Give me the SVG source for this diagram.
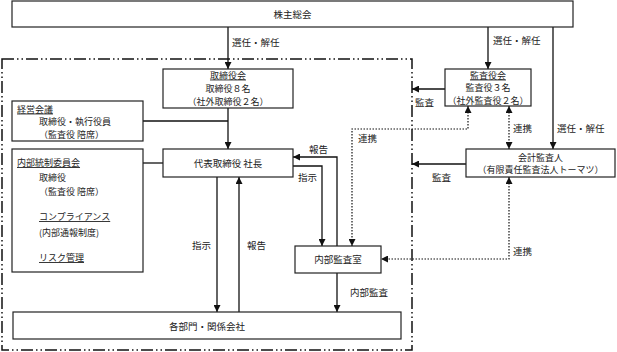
<svg xmlns="http://www.w3.org/2000/svg" width="617" height="352" viewBox="0 0 617 352">
<style>
.box{fill:#fff;stroke:#222;stroke-width:1.2}
.t{font-family:"Noto Sans CJK JP","Noto Sans",sans-serif;font-size:9.5px;fill:#222}
.s{font-size:9px}
.c{text-anchor:middle}
.u{text-decoration:underline}
.ln{fill:none;stroke:#111;stroke-width:1.3}
.dot{fill:none;stroke:#111;stroke-width:1.2;stroke-dasharray:1.5 1.5}
.frame{fill:none;stroke:#111;stroke-width:1.5;stroke-dasharray:12 3 1.5 3 1.5 3}
</style>
<defs>
<marker id="a" viewBox="0 0 10 10" refX="10" refY="5" markerWidth="7" markerHeight="7" markerUnits="userSpaceOnUse" orient="auto-start-reverse">
<path d="M0,0 L10,5 L0,10 z" fill="#111"/>
</marker>
</defs>
<rect class="frame" x="2" y="59" width="410" height="291"/>
<g id="connectors">
<path class="ln" d="M228,27 V69" marker-end="url(#a)"/>
<path class="ln" d="M488,27 V69" marker-end="url(#a)"/>
<path class="ln" d="M553,27 V149" marker-end="url(#a)"/>
<path class="ln" d="M143,121 H228"/>
<path class="ln" d="M228,108 V149" marker-end="url(#a)"/>
<path class="ln" d="M143,163 H163"/>
<path class="ln" d="M217,177 V312" marker-end="url(#a)"/>
<path class="ln" d="M239,312 V177" marker-end="url(#a)"/>
<path class="ln" d="M293,166 H322 V246" marker-end="url(#a)"/>
<path class="ln" d="M337,246 V157 H293" marker-end="url(#a)"/>
<path class="ln" d="M445,89 H412" marker-end="url(#a)"/>
<path class="ln" d="M466,164 H412" marker-end="url(#a)"/>
<path class="ln" d="M337,273 V312" marker-end="url(#a)"/>
<path class="dot" d="M468,106 V129 H352 V246" marker-start="url(#a)" marker-end="url(#a)"/>
<path class="dot" d="M509,106 V149" marker-start="url(#a)" marker-end="url(#a)"/>
<path class="dot" d="M509,177 V259 H381" marker-start="url(#a)" marker-end="url(#a)"/>
<text class="t" x="232" y="45.5">選任・解任</text>
<text class="t" x="493" y="43.5">選任・解任</text>
<text class="t" x="557" y="131.5">選任・解任</text>
<text class="t" x="415" y="105.5">監査</text>
<text class="t" x="432" y="180.5">監査</text>
<text class="t" x="358" y="141.5">連携</text>
<text class="t" x="513" y="131.5">連携</text>
<text class="t" x="513" y="254.5">連携</text>
<text class="t" x="309" y="152.5">報告</text>
<text class="t" x="298" y="180.5">指示</text>
<text class="t" x="192" y="248.5">指示</text>
<text class="t" x="247" y="248.5">報告</text>
<text class="t" x="350" y="295.5">内部監査</text>
</g>
<g id="shareholders">
<rect class="box" x="12" y="1" width="561" height="26"/>
<text class="t c" x="292.5" y="18">株主総会</text>
</g>
<g id="board">
<rect class="box" x="163" y="69" width="130" height="39"/>
<text class="t s c u" x="228" y="78.5">取締役会</text>
<text class="t s c" x="228" y="91.5">取締役８名</text>
<text class="t s c" x="228" y="104.5">（社外取締役２名）</text>
</g>
<g id="auditors">
<rect class="box" x="445" y="69" width="86" height="37"/>
<text class="t s c u" x="488" y="78.5">監査役会</text>
<text class="t s c" x="488" y="91">監査役３名</text>
<text class="t s c" x="488" y="103.5">（社外監査役２名）</text>
</g>
<g id="management">
<rect class="box" x="12" y="101" width="131" height="40"/>
<text class="t s u" x="17" y="112.5">経営会議</text>
<text class="t s" x="39" y="125">取締役・執行役員</text>
<text class="t s" x="39" y="137.5">（監査役 陪席）</text>
</g>
<g id="internal-control">
<rect class="box" x="12" y="149" width="131" height="123"/>
<text class="t s u" x="17" y="166">内部統制委員会</text>
<text class="t s" x="39" y="181">取締役</text>
<text class="t s" x="39" y="194.5">（監査役 陪席）</text>
<text class="t s u" x="39" y="220">コンプライアンス</text>
<text class="t s" x="39" y="236">(内部通報制度)</text>
<text class="t s u" x="39" y="261">リスク管理</text>
</g>
<g id="president">
<rect class="box" x="163" y="149" width="130" height="28"/>
<text class="t c" x="228" y="166.5">代表取締役 社長</text>
</g>
<g id="accounting-auditor">
<rect class="box" x="466" y="149" width="149" height="28"/>
<text class="t s c" x="540.5" y="160.5">会計監査人</text>
<text class="t s c" x="540.5" y="173">（有限責任監査法人トーマツ）</text>
</g>
<g id="internal-audit">
<rect class="box" x="295" y="246" width="86" height="27"/>
<text class="t c" x="338" y="263">内部監査室</text>
</g>
<g id="departments">
<rect class="box" x="13" y="312" width="388" height="27"/>
<text class="t c" x="207" y="329.5">各部門・関係会社</text>
</g>
</svg>
